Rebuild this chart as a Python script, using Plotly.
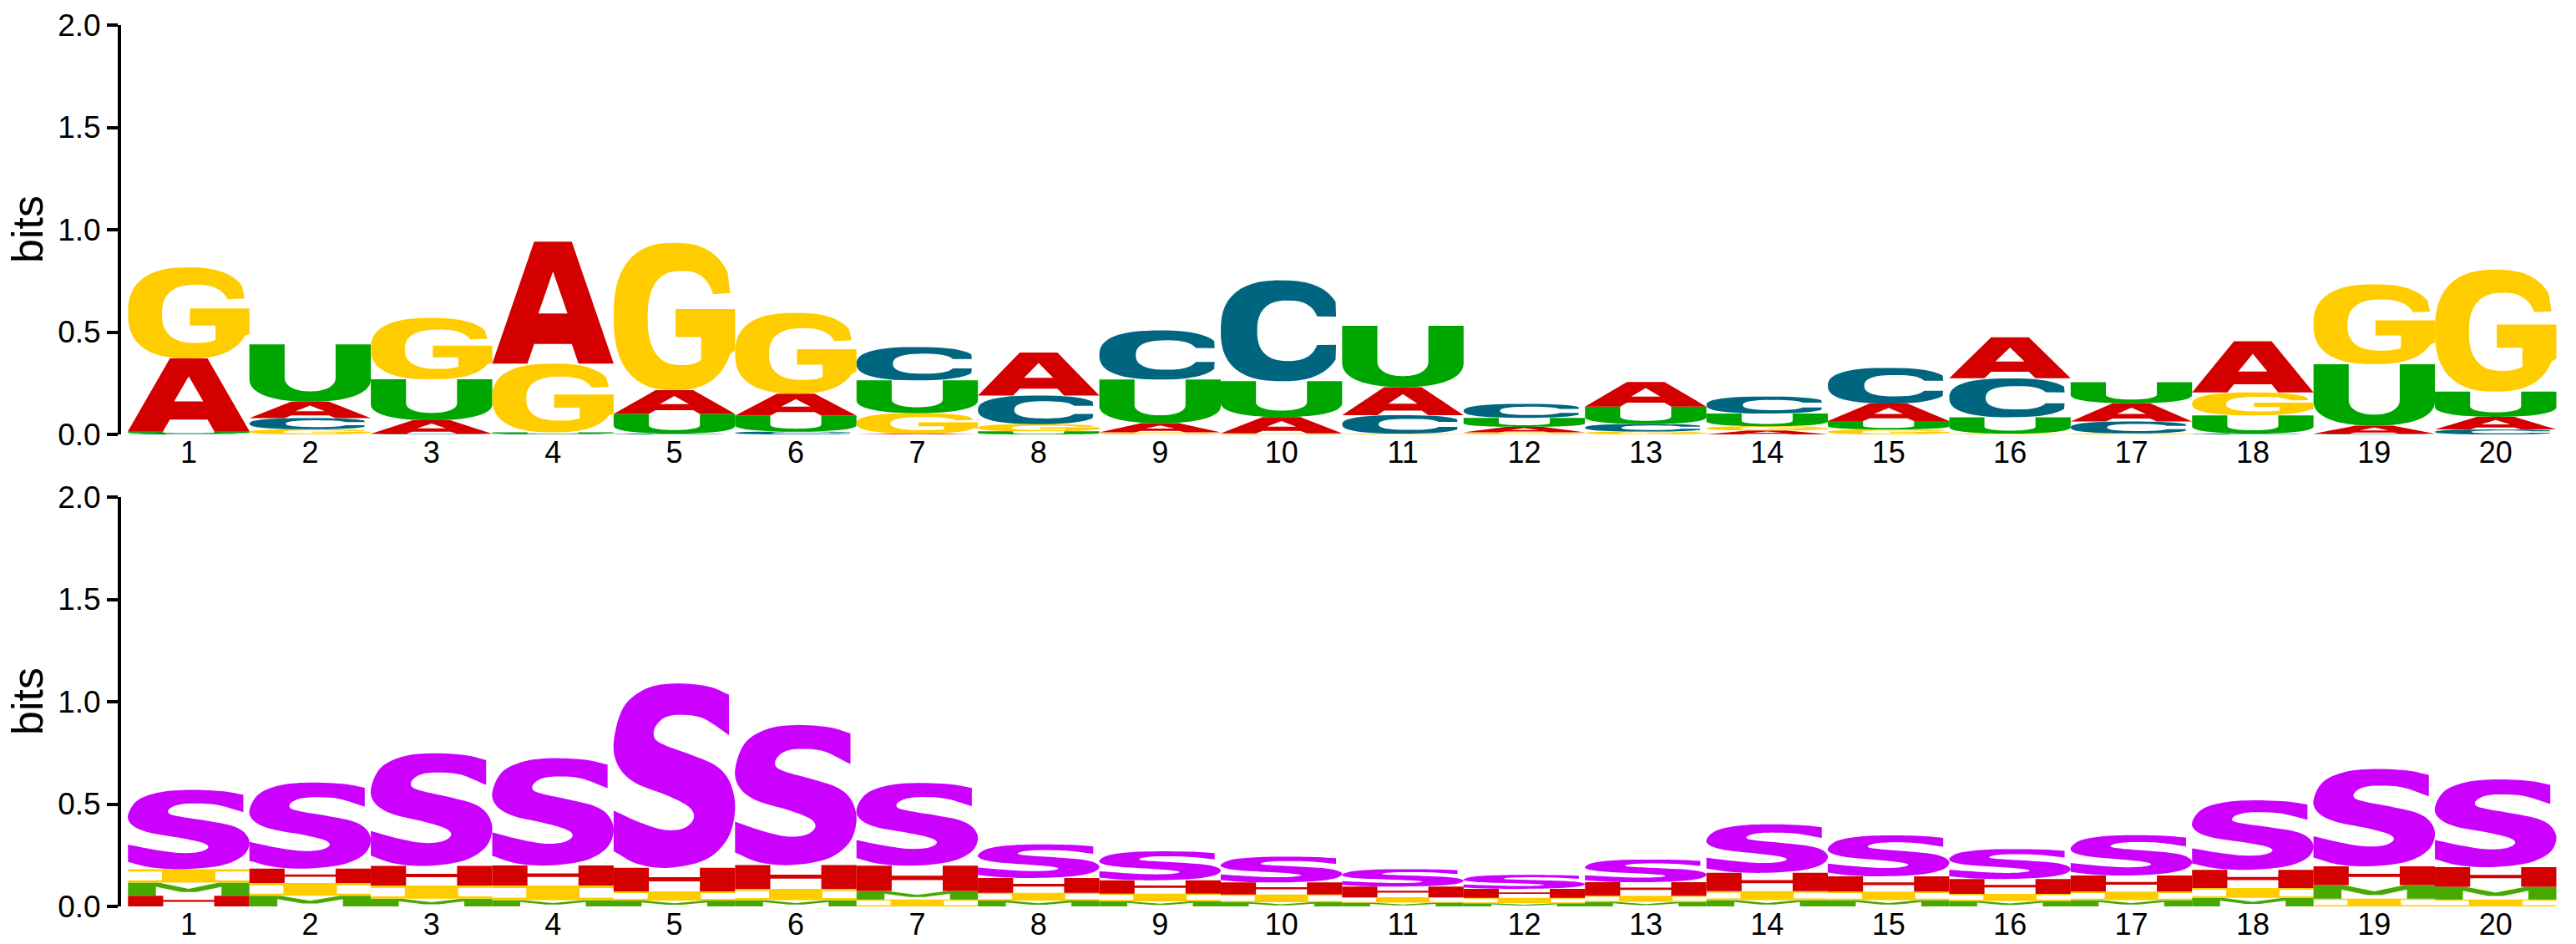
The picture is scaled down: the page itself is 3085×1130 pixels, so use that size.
import numpy as np
import plotly.graph_objects as go

# ---------------- data ----------------
positions = list(range(1, 21))
x_tick_labels = [str(p) for p in positions]
y_ticks = [0.0, 0.5, 1.0, 1.5, 2.0]
y_tick_labels = ["0.0", "0.5", "1.0", "1.5", "2.0"]
axis_title = "bits"

# sequence logo (bits per letter)
rna_A = [0.355, 0.080, 0.066, 0.596, 0.116, 0.107, 0.004, 0.210, 0.045, 0.080,
         0.137, 0.027, 0.120, 0.019, 0.086, 0.200, 0.089, 0.250, 0.040, 0.062]
rna_C = [0.004, 0.055, 0.003, 0.003, 0.004, 0.014, 0.163, 0.140, 0.240, 0.493,
         0.090, 0.068, 0.037, 0.083, 0.174, 0.190, 0.058, 0.004, 0.003, 0.024]
rna_G = [0.445, 0.025, 0.300, 0.336, 0.720, 0.395, 0.100, 0.035, 0.010, 0.005,
         0.004, 0.010, 0.014, 0.021, 0.024, 0.004, 0.005, 0.112, 0.390, 0.596]
rna_U = [0.012, 0.280, 0.200, 0.007, 0.096, 0.078, 0.160, 0.015, 0.213, 0.175,
         0.300, 0.044, 0.085, 0.062, 0.041, 0.080, 0.103, 0.089, 0.300, 0.123]

# structure logo (bits per letter)
struct_S = [0.387, 0.420, 0.550, 0.524, 0.900, 0.684, 0.404, 0.164, 0.141, 0.126,
            0.085, 0.068, 0.111, 0.237, 0.200, 0.146, 0.197, 0.339, 0.475, 0.428]
struct_H = [0.052, 0.071, 0.096, 0.098, 0.116, 0.116, 0.123, 0.073, 0.066, 0.059,
            0.052, 0.044, 0.066, 0.089, 0.075, 0.073, 0.079, 0.089, 0.092, 0.096]
struct_I = [0.066, 0.062, 0.064, 0.071, 0.044, 0.055, 0.034, 0.037, 0.037, 0.038,
            0.027, 0.027, 0.030, 0.044, 0.041, 0.034, 0.041, 0.048, 0.038, 0.034]
struct_M = [0.064, 0.052, 0.038, 0.031, 0.029, 0.031, 0.042, 0.029, 0.025, 0.020,
            0.018, 0.015, 0.022, 0.031, 0.031, 0.027, 0.031, 0.042, 0.066, 0.062]

colors = {"A": "#D40000", "C": "#006680", "G": "#FFCC00", "U": "#00A600",
          "S": "#CC00FF", "H": "#D40000", "I": "#FFCC00", "M": "#46A800"}

# ---------------- glyph outlines (unit box) ----------------
def arc(cx, cy, a, b, t0, t1, n=2.0, num=44):
    t = np.radians(np.linspace(t0, t1, num))
    c, s = np.cos(t), np.sin(t)
    e = 2.0 / n
    xs = cx + a * np.sign(c) * np.abs(c) ** e
    ys = cy + b * np.sign(s) * np.abs(s) ** e
    return [(float(x), float(y)) for x, y in zip(xs, ys)]


def smooth(points, corners, samples=7):
    P = np.array(points, dtype=float)
    N = len(P)
    out = []
    for i in range(N):
        p0, p1 = P[i], P[(i + 1) % N]
        pm, p2 = P[(i - 1) % N], P[(i + 2) % N]
        c1 = p0 + (p1 - p0) / 3 if i in corners else p0 + (p1 - pm) / 6
        c2 = p1 - (p1 - p0) / 3 if (i + 1) % N in corners else p1 - (p2 - p0) / 6
        for t in np.linspace(0, 1, samples, endpoint=False):
            q = (1 - t) ** 3 * p0 + 3 * (1 - t) ** 2 * t * c1 + 3 * (1 - t) * t ** 2 * c2 + t ** 3 * p1
            out.append((float(q[0]), float(q[1])))
    return out


def glyph_A():
    outer = [(0, 0), (0.345, 1), (0.655, 1), (1, 0), (0.71, 0), (0.655, 0.16),
             (0.345, 0.16), (0.29, 0)]
    hole = [(0.38, 0.41), (0.62, 0.41), (0.5, 0.755)]
    return [outer, hole]


def glyph_C():
    outer = arc(0.5, 0.5, 0.5, 0.5, 30, 330, 2.5)
    inner = arc(0.555, 0.5, 0.255, 0.30, 337, 23, 2.5)
    return [outer + [(0.95, 0.36)] + inner + [(0.95, 0.64)]]


def glyph_G():
    outer = arc(0.5, 0.5, 0.5, 0.5, 32, 335, 2.5)
    inner = arc(0.56, 0.49, 0.28, 0.32, 300, 25, 2.5)
    bx = inner[0][0]
    mid = [(1.0, 0.27), (1.0, 0.55), (0.51, 0.55), (0.51, 0.36), (bx, 0.36)]
    return [outer + mid + inner + [(0.96, 0.66)]]


def glyph_U():
    outer = arc(0.5, 0.4, 0.5, 0.4, 180, 360, 2.3)
    inner = arc(0.5, 0.42, 0.21, 0.24, 360, 180, 2.2)
    return [[(0, 1)] + outer + [(1, 1), (0.71, 1)] + inner + [(0.29, 1)]]


def glyph_S():
    pts = [(0.95, 0.94), (0.77, 0.985), (0.49, 1.0), (0.26, 0.97), (0.08, 0.87),
           (0.0, 0.68), (0.04, 0.55), (0.18, 0.46), (0.45, 0.39), (0.62, 0.33),
           (0.66, 0.27), (0.58, 0.215), (0.42, 0.205), (0.22, 0.245), (0.0, 0.31),
           (0.0, 0.09), (0.2, 0.02), (0.46, 0.0), (0.76, 0.045), (0.94, 0.16),
           (1.0, 0.32), (0.96, 0.46), (0.85, 0.55), (0.65, 0.61), (0.44, 0.66),
           (0.34, 0.70), (0.34, 0.76), (0.42, 0.815), (0.56, 0.83), (0.74, 0.81),
           (0.95, 0.72)]
    corners = {0, 14, 15, 30}
    return [smooth(pts, corners)]


def glyph_H():
    return [[(0, 0), (0, 1), (0.29, 1), (0.29, 0.6), (0.71, 0.6), (0.71, 1), (1, 1),
             (1, 0), (0.71, 0), (0.71, 0.43), (0.29, 0.43), (0.29, 0)]]


def glyph_I():
    return [[(0, 0), (1, 0), (1, 0.17), (0.72, 0.17), (0.72, 0.83), (1, 0.83), (1, 1),
             (0, 1), (0, 0.83), (0.28, 0.83), (0.28, 0.17), (0, 0.17)]]


def glyph_M():
    return [[(0, 0), (0, 1), (0.25, 1), (0.5, 0.53), (0.75, 1), (1, 1), (1, 0),
             (0.77, 0), (0.77, 0.68), (0.56, 0.28), (0.44, 0.28), (0.23, 0.68),
             (0.23, 0)]]


GLYPHS = {"A": glyph_A(), "C": glyph_C(), "G": glyph_G(), "U": glyph_U(),
          "S": glyph_S(), "H": glyph_H(), "I": glyph_I(), "M": glyph_M()}


def glyph_path(contours, x0, y0, w, h):
    parts = []
    for cont in contours:
        pts = [f"{x0 + u * w:.4f},{y0 + v * h:.5f}" for u, v in cont]
        parts.append("M" + "L".join(pts) + "Z")
    return "".join(parts)


def logo_shapes(series, xref, yref):
    shapes = []
    letters = list(series.keys())
    for i, pos in enumerate(positions):
        col = sorted(letters, key=lambda L: series[L][i])
        base = 0.0
        for L in col:
            h = series[L][i]
            if h <= 0:
                continue
            shapes.append(dict(type="path", xref=xref, yref=yref,
                               path=glyph_path(GLYPHS[L], pos - 0.5, base, 1.0, h),
                               fillcolor=colors[L], line=dict(width=0),
                               fillrule="evenodd", layer="above"))
            base += h
    return shapes


top_series = {"A": rna_A, "C": rna_C, "G": rna_G, "U": rna_U}
bottom_series = {"S": struct_S, "H": struct_H, "I": struct_I, "M": struct_M}

shapes = logo_shapes(top_series, "x", "y") + logo_shapes(bottom_series, "x2", "y2")

fig = go.Figure()
fig.add_trace(go.Scatter(x=positions, y=[0] * 20, mode="markers", marker=dict(opacity=0),
                         hoverinfo="skip", showlegend=False, xaxis="x", yaxis="y"))
fig.add_trace(go.Scatter(x=positions, y=[0] * 20, mode="markers", marker=dict(opacity=0),
                         hoverinfo="skip", showlegend=False, xaxis="x2", yaxis="y2"))

W, H = 3085, 1130
ML, MR = 145, 9
PW = W - ML - MR
FONT = "Liberation Sans, Arial, sans-serif"
top_dom = [1 - 520 / H, 1 - 30 / H]
bot_dom = [1 - 1085 / H, 1 - 595 / H]

xcommon = dict(range=[0.443, 20.6], tickmode="array", tickvals=positions, ticktext=x_tick_labels,
               showline=False, showgrid=False, zeroline=False, ticks="", ticklen=0,
               ticklabelstandoff=-3, automargin=False,
               tickfont=dict(family=FONT, size=36, color="black"), fixedrange=True)
ycommon = dict(range=[0, 2], tickmode="array", tickvals=y_ticks, ticktext=y_tick_labels,
               showline=True, linecolor="black", linewidth=4, ticks="outside", ticklen=13,
               tickwidth=4, tickcolor="black", showgrid=False, zeroline=False, automargin=False,
               tickfont=dict(family=FONT, size=37, color="black"), fixedrange=True)

title_x = (33 - ML) / PW

fig.update_layout(
    width=W, height=H,
    margin=dict(l=ML, r=MR, t=0, b=0, pad=0, autoexpand=False),
    paper_bgcolor="white", plot_bgcolor="white",
    xaxis=dict(domain=[0, 1], anchor="y", **xcommon),
    yaxis=dict(domain=top_dom, anchor="x", **ycommon),
    xaxis2=dict(domain=[0, 1], anchor="y2", **xcommon),
    yaxis2=dict(domain=bot_dom, anchor="x2", **ycommon),
    shapes=shapes,
    annotations=[
        dict(text=axis_title, xref="paper", yref="paper", x=title_x,
             y=(top_dom[0] + top_dom[1]) / 2, textangle=-90, showarrow=False,
             xanchor="center", yanchor="middle", font=dict(family=FONT, size=52, color="black")),
        dict(text=axis_title, xref="paper", yref="paper", x=title_x,
             y=(bot_dom[0] + bot_dom[1]) / 2, textangle=-90, showarrow=False,
             xanchor="center", yanchor="middle", font=dict(family=FONT, size=52, color="black")),
    ],
    showlegend=False,
)

fig.write_html("out.html")
